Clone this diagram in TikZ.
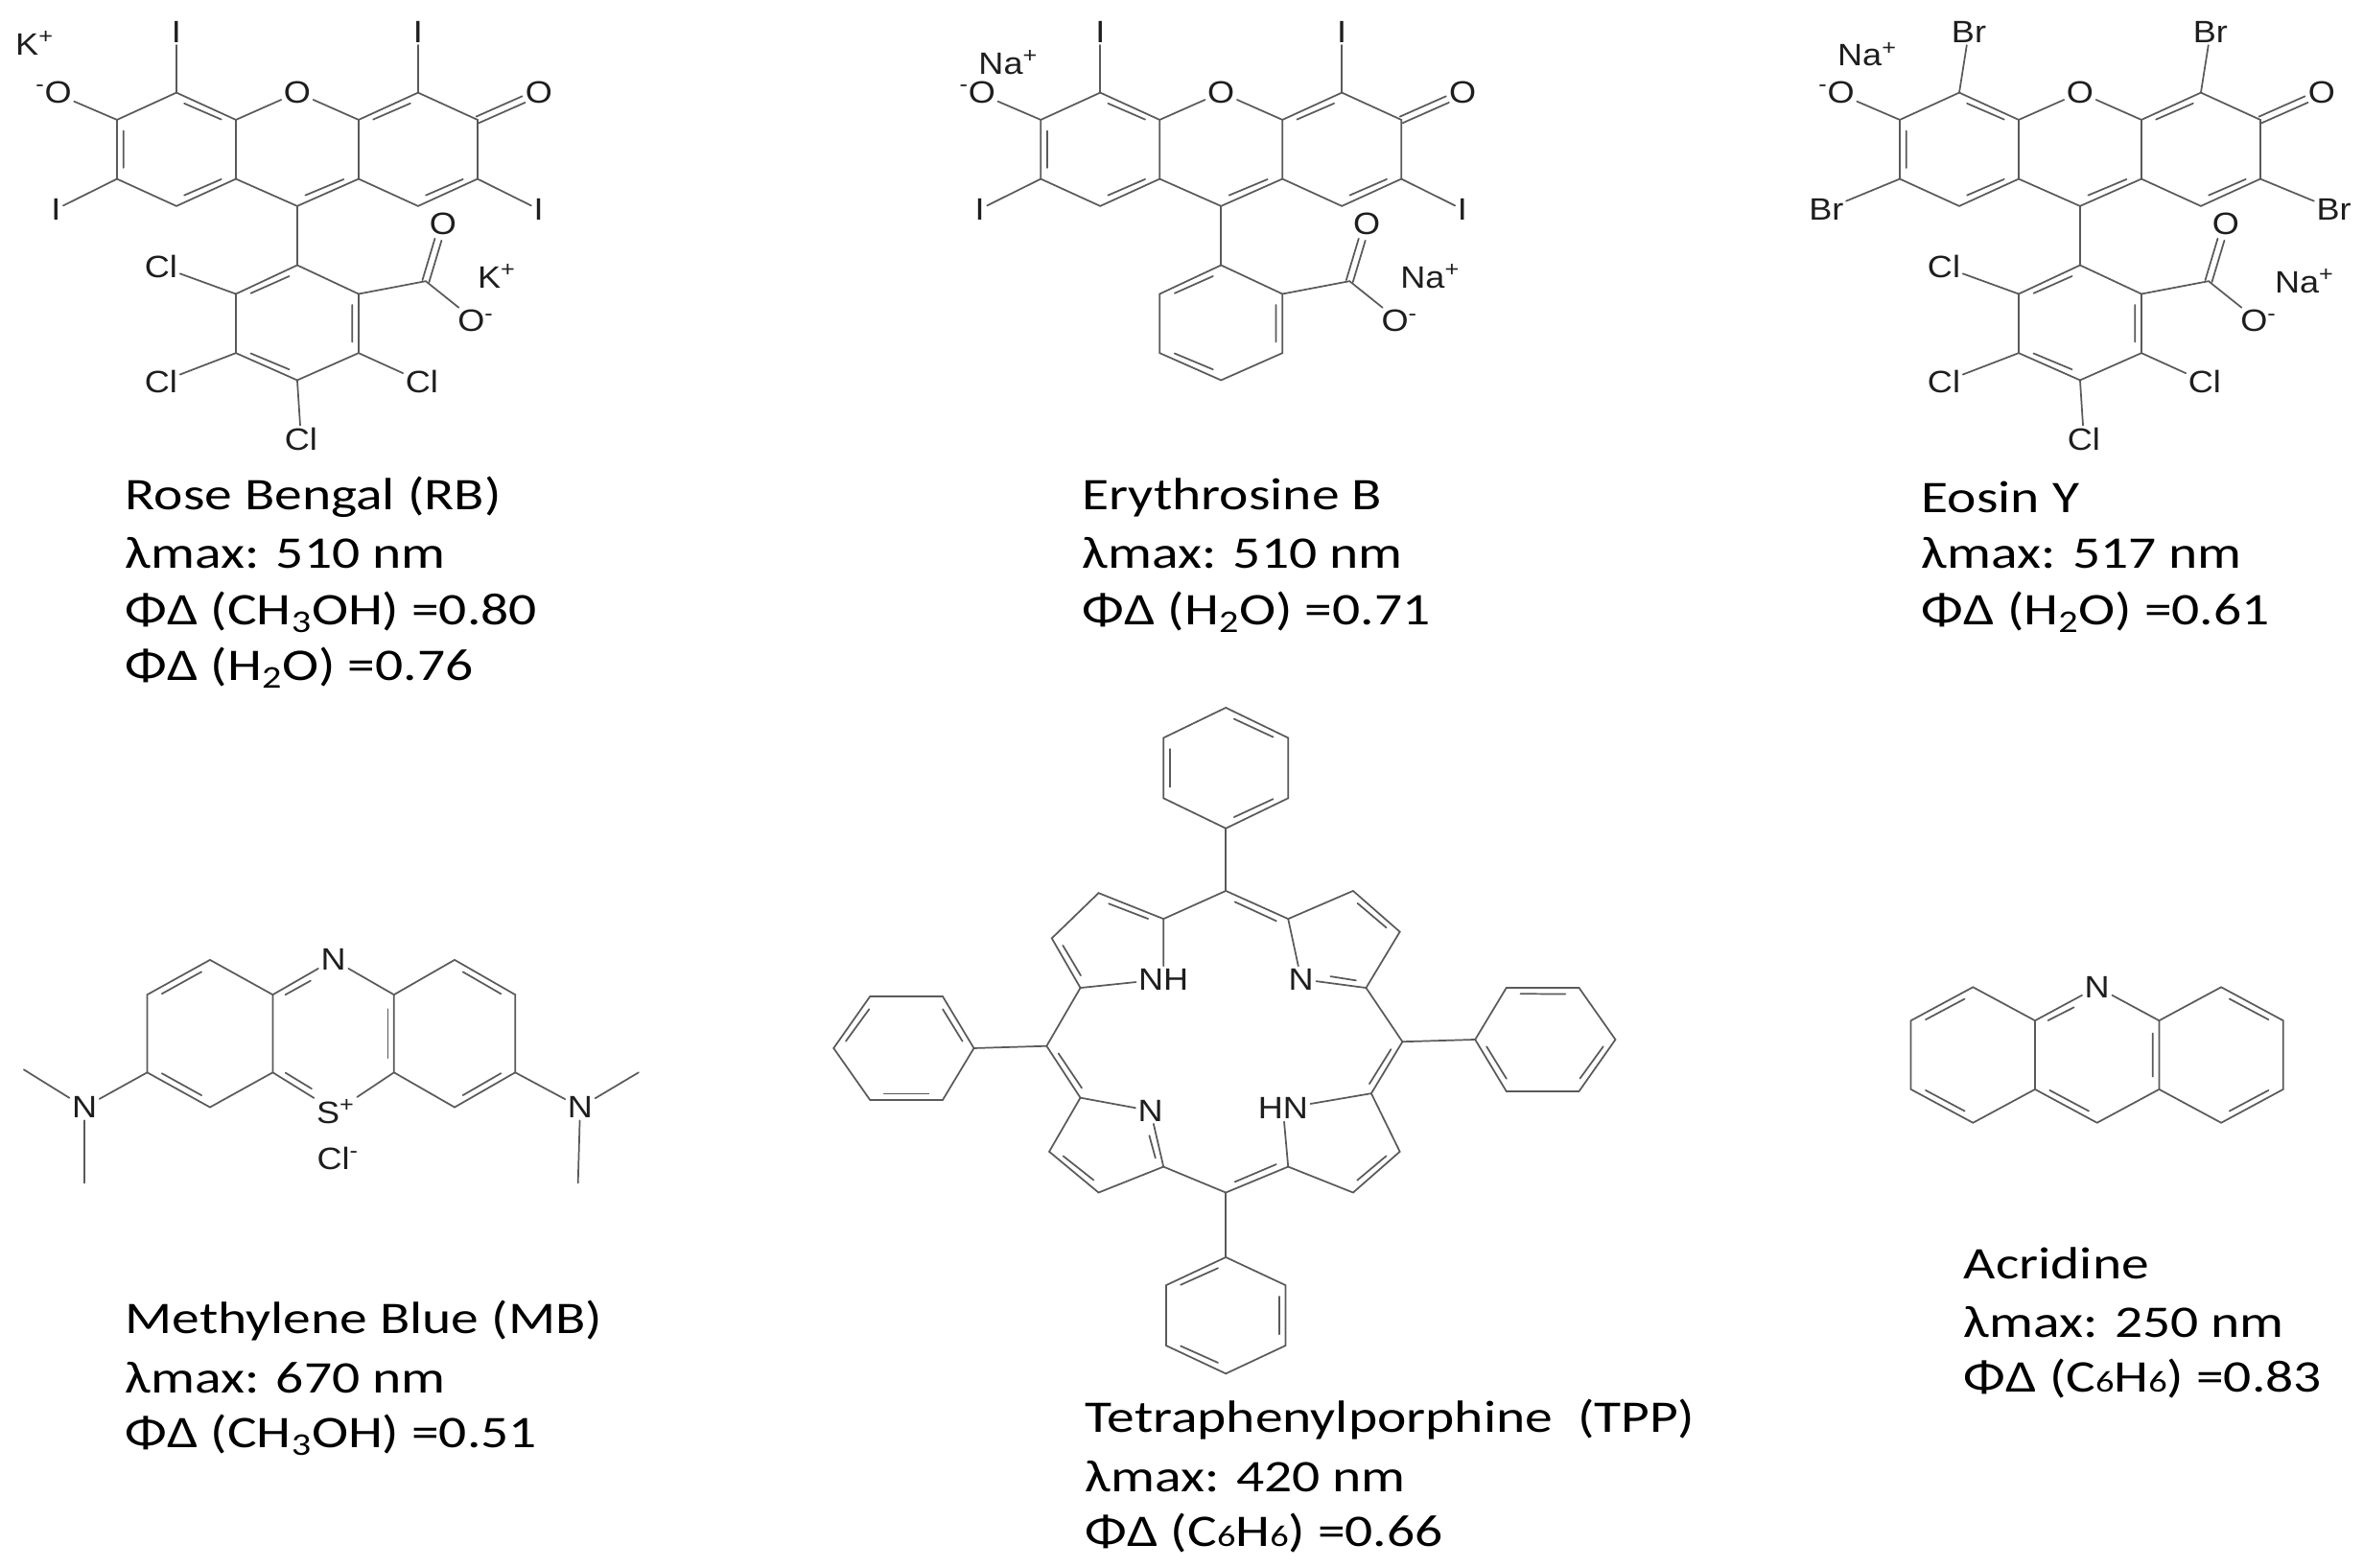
\documentclass[tikz,border=0pt]{standalone}
\usepackage{fontspec}
\setmainfont{Carlito}[FakeStretch=1.22]
\newfontfamily\arialf{Liberation Sans}[FakeStretch=1.12]
\usetikzlibrary{calc}
\definecolor{bondc}{HTML}{5A5A5A}
\definecolor{atomc}{HTML}{1E1E1E}
\newcommand\atomfont{\arialf\fontsize{20.5}{20.5}\selectfont}
\newcommand\lblfont{\fontsize{30}{34}\selectfont}
\newcommand\smd[1]{{\fontsize{20}{20}\selectfont #1}}
\tikzset{
  bond/.style={draw=bondc, line width=1.1pt, line cap=round},
  atom/.style={font=\atomfont, text=atomc, inner sep=1.5pt},
  lbl/.style={font=\lblfont, anchor=west, text=black, inner sep=0pt}
}
\newcommand\dbin[3]{\draw[bond] ($(#1)!0.15!(#2)!4.5pt!(#3)$) -- ($(#2)!0.15!(#1)!4.5pt!(#3)$);}
\newcommand\dbl[3]{\draw[bond] ($(#1)!0.12!(#2)!4.5pt!(#3)$) -- ($(#2)!0.42!(#1)!4.5pt!(#3)$);}
\newcommand\dbx[2]{\draw[bond,shorten >=11pt] ($(#1)!2.3pt!90:(#2)$) -- ($(#2)!2.3pt!-90:(#1)$);
  \draw[bond,shorten >=11pt] ($(#1)!2.3pt!-90:(#2)$) -- ($(#2)!2.3pt!90:(#1)$);}
% xanthene skeleton: #1 prefix, #2 top halogen, #3 side halogen, #4 top x offset
\newcommand\xan[4]{%
  \coordinate (#1a1) at (460,290); \coordinate (#1a2) at (615,375);
  \coordinate (#1a3) at (615,560); \coordinate (#1a4) at (460,645);
  \coordinate (#1a5) at (305,560); \coordinate (#1a6) at (305,375);
  \coordinate (#1ac) at (460,467);
  \coordinate (#1b1) at (1090,290); \coordinate (#1b2) at (1245,375);
  \coordinate (#1b3) at (1245,560); \coordinate (#1b4) at (1090,645);
  \coordinate (#1b5) at (935,560); \coordinate (#1b6) at (935,375);
  \coordinate (#1bc) at (1090,467);
  \coordinate (#1c9) at (775,645); \coordinate (#1cc) at (775,467);
  \coordinate (#1p1) at (775,830); \coordinate (#1p2) at (935,920);
  \coordinate (#1p3) at (935,1105); \coordinate (#1p4) at (775,1190);
  \coordinate (#1p5) at (615,1105); \coordinate (#1p6) at (615,920);
  \coordinate (#1pc) at (775,1010);
  \coordinate (#1cx) at (1110,880);
  \node[atom] (#1Ob) at (775,290) {O};
  \node[atom] (#1Oa) at (140,290) {\textsuperscript{-}O};
  \node[atom] (#1Oe) at (1405,290) {O};
  \node[atom] (#1Oc) at (1155,700) {O};
  \node[atom] (#1Om) at (1240,1005) {O\textsuperscript{-}};
  \node[atom] (#1T1) at ({460+#4},100) {#2};
  \node[atom] (#1T2) at ({1090+#4},100) {#2};
  \node[atom,anchor=east] (#1S1) at (165,655) {#3};
  \node[atom,anchor=west] (#1S2) at (1385,655) {#3};
  \draw[bond] (#1a1)--(#1a2)--(#1a3)--(#1a4)--(#1a5)--(#1a6)--cycle;
  \draw[bond] (#1b1)--(#1b2)--(#1b3)--(#1b4)--(#1b5)--(#1b6)--cycle;
  \draw[bond] (#1p1)--(#1p2)--(#1p3)--(#1p4)--(#1p5)--(#1p6)--cycle;
  \draw[bond] (#1a2)--(#1Ob)--(#1b6);
  \draw[bond] (#1a3)--(#1c9)--(#1b5);
  \draw[bond] (#1c9)--(#1p1);
  \draw[bond] (#1p2)--(#1cx)--(#1Om);
  \draw[bond] (#1a1)--(#1T1); \draw[bond] (#1b1)--(#1T2);
  \draw[bond] (#1a5)--(#1S1); \draw[bond] (#1b3)--(#1S2);
  \draw[bond] (#1a6)--(#1Oa);
  \dbin{#1a1}{#1a2}{#1ac} \dbin{#1a3}{#1a4}{#1ac} \dbin{#1a5}{#1a6}{#1ac}
  \dbin{#1b6}{#1b1}{#1bc} \dbin{#1b3}{#1b4}{#1bc} \dbin{#1c9}{#1b5}{#1cc}
  \dbin{#1p1}{#1p6}{#1pc} \dbin{#1p2}{#1p3}{#1pc} \dbin{#1p4}{#1p5}{#1pc}
  \dbx{#1b2}{#1Oe} \dbx{#1cx}{#1Oc}
}
\newcommand\tetracl[1]{%
  \node[atom] (#1Cl1) at (420,835) {Cl};
  \node[atom] (#1Cl2) at (420,1195) {Cl};
  \node[atom] (#1Cl3) at (1100,1195) {Cl};
  \node[atom] (#1Cl4) at (785,1375) {Cl};
  \draw[bond] (#1p6)--(#1Cl1); \draw[bond] (#1p5)--(#1Cl2);
  \draw[bond] (#1p3)--(#1Cl3); \draw[bond] (#1p4)--(#1Cl4);
}
\begin{document}
\begin{tikzpicture}[x=1pt,y=-1pt]
\fill[white] (0,0) rectangle (1568,1040);
\useasboundingbox (0,0) rectangle (1568,1040);

% ---------- Rose Bengal
\begin{scope}[shift={(0,0)},x=0.2545pt,y=-0.212pt]
  \xan{r}{I}{I}{0}
  \tetracl{r}
  \node[atom] (rK1) at (90,135) {K\textsuperscript{+}};
  \node[atom] (rK2) at (1295,865) {K\textsuperscript{+}};
\end{scope}
% ---------- Erythrosine B
\begin{scope}[shift={(613,0)},x=0.2545pt,y=-0.212pt]
  \xan{e}{I}{I}{0}
  \node[atom] (eNa1) at (220,195) {Na\textsuperscript{+}};
  \node[atom] (eNa2) at (1320,865) {Na\textsuperscript{+}};
\end{scope}
% ---------- Eosin Y
\begin{scope}[shift={(1183,0)},x=0.2545pt,y=-0.212pt]
  \xan{y}{Br}{Br}{25}
  \tetracl{y}
  \node[atom] (yNa1) at (220,170) {Na\textsuperscript{+}};
  \node[atom] (yNa2) at (1360,880) {Na\textsuperscript{+}};
\end{scope}

% ---------- Methylene blue
\begin{scope}[shift={(0,512)},x=0.2873pt,y=-0.2716pt]
  \coordinate (L1) at (485,460); \coordinate (L2) at (630,545);
  \coordinate (L3) at (630,735); \coordinate (L4) at (485,820);
  \coordinate (L5) at (340,735); \coordinate (L6) at (340,545);
  \coordinate (Lc) at (485,640);
  \coordinate (R1) at (1050,460); \coordinate (R2) at (1190,545);
  \coordinate (R3) at (1190,735); \coordinate (R4) at (1050,820);
  \coordinate (R5) at (910,735); \coordinate (R6) at (910,545);
  \coordinate (Rc) at (1050,640);
  \coordinate (Mc) at (770,640);
  \node[atom] (mN) at (770,460) {N};
  \node[atom] (mS) at (775,830) {S\textsuperscript{+}};
  \node[atom] (mCl) at (780,945) {Cl\textsuperscript{-}};
  \node[atom] (mNl) at (195,820) {N};
  \node[atom] (mNr) at (1340,820) {N};
  \coordinate (me1) at (55,728); \coordinate (me2) at (195,1005);
  \coordinate (me3) at (1475,735); \coordinate (me4) at (1335,1005);
  \draw[bond] (L1)--(L2)--(L3)--(L4)--(L5)--(L6)--cycle;
  \draw[bond] (R1)--(R2)--(R3)--(R4)--(R5)--(R6)--cycle;
  \draw[bond] (L2)--(mN)--(R6);
  \draw[bond] (L3)--(mS)--(R5);
  \draw[bond] (L5)--(mNl); \draw[bond] (me1)--(mNl)--(me2);
  \draw[bond] (R3)--(mNr); \draw[bond] (me3)--(mNr)--(me4);
  \dbin{L1}{L6}{Lc} \dbin{L4}{L5}{Lc}
  \dbin{R1}{R2}{Rc} \dbin{R3}{R4}{Rc}
  \dbin{R6}{R5}{Mc}
  \dbl{L2}{mN}{Mc} \dbl{L3}{mS}{Mc}
\end{scope}

% ---------- Acridine
\begin{scope}[shift={(1229,602)},x=0.2167pt,y=-0.2466pt]
  \coordinate (A1) at (370,215); \coordinate (A2) at (560,305);
  \coordinate (A3) at (560,490); \coordinate (A4) at (370,580);
  \coordinate (A5) at (180,490); \coordinate (A6) at (180,305);
  \coordinate (Ac) at (370,397);
  \coordinate (B1) at (1130,215); \coordinate (B2) at (1320,305);
  \coordinate (B3) at (1320,490); \coordinate (B4) at (1130,580);
  \coordinate (B5) at (940,490); \coordinate (B6) at (940,305);
  \coordinate (Bc) at (1130,397);
  \coordinate (C9) at (750,580); \coordinate (Cc) at (750,397);
  \node[atom] (aN) at (750,215) {N};
  \draw[bond] (A1)--(A2)--(A3)--(A4)--(A5)--(A6)--cycle;
  \draw[bond] (B1)--(B2)--(B3)--(B4)--(B5)--(B6)--cycle;
  \draw[bond] (A2)--(aN)--(B6);
  \draw[bond] (A3)--(C9)--(B5);
  \dbin{A1}{A6}{Ac} \dbin{A4}{A5}{Ac}
  \dbin{B1}{B2}{Bc} \dbin{B3}{B4}{Bc}
  \dbin{B6}{B5}{Cc} \dbin{C9}{A3}{Cc}
  \dbl{A2}{aN}{Cc}
\end{scope}

% ---------- TPP
\begin{scope}[shift={(534.2,451)},x=0.3447pt,y=-0.286pt]
  \coordinate (T1) at (810,65); \coordinate (T2) at (930,135);
  \coordinate (T3) at (930,275); \coordinate (T4) at (810,345);
  \coordinate (T5) at (690,275); \coordinate (T6) at (690,135);
  \coordinate (Tc) at (810,205);
  \coordinate (Lp1) at (55,855); \coordinate (Lp2) at (125,735);
  \coordinate (Lp3) at (265,735); \coordinate (Lp4) at (325,855);
  \coordinate (Lp5) at (265,975); \coordinate (Lp6) at (125,975);
  \coordinate (Lpc) at (195,855);
  \coordinate (Rp1) at (1290,835); \coordinate (Rp2) at (1350,715);
  \coordinate (Rp3) at (1490,715); \coordinate (Rp4) at (1560,835);
  \coordinate (Rp5) at (1490,955); \coordinate (Rp6) at (1350,955);
  \coordinate (Rpc) at (1425,835);
  \coordinate (Bp1) at (810,1340); \coordinate (Bp2) at (925,1405);
  \coordinate (Bp3) at (925,1545); \coordinate (Bp4) at (810,1610);
  \coordinate (Bp5) at (695,1545); \coordinate (Bp6) at (695,1405);
  \coordinate (Bpc) at (810,1475);
  \coordinate (mt) at (810,490); \coordinate (ml) at (465,850);
  \coordinate (mr) at (1150,840); \coordinate (mb) at (810,1190);
  \coordinate (mc) at (812,845);
  \coordinate (q1a) at (690,555); \coordinate (q1b) at (565,495);
  \coordinate (q1c) at (475,600); \coordinate (q1d) at (530,715);
  \coordinate (c1) at (590,612);
  \coordinate (q2a) at (930,555); \coordinate (q2b) at (1055,490);
  \coordinate (q2c) at (1145,585); \coordinate (q2d) at (1080,715);
  \coordinate (c2) at (1033,608);
  \coordinate (q3a) at (1090,960); \coordinate (q3b) at (1145,1095);
  \coordinate (q3c) at (1055,1190); \coordinate (q3d) at (930,1130);
  \coordinate (c3) at (1028,1074);
  \coordinate (q4a) at (690,1130); \coordinate (q4b) at (470,1095);
  \coordinate (q4c) at (565,1190); \coordinate (q4d) at (530,970);
  \coordinate (c4) at (584,1077);
  \node[atom] (tN1) at (690,695) {NH};
  \node[atom] (tN2) at (955,695) {N};
  \node[atom] (tN3) at (920,995) {HN};
  \node[atom] (tN4) at (665,1000) {N};
  \draw[bond] (T1)--(T2)--(T3)--(T4)--(T5)--(T6)--cycle;
  \draw[bond] (Lp1)--(Lp2)--(Lp3)--(Lp4)--(Lp5)--(Lp6)--cycle;
  \draw[bond] (Rp1)--(Rp2)--(Rp3)--(Rp4)--(Rp5)--(Rp6)--cycle;
  \draw[bond] (Bp1)--(Bp2)--(Bp3)--(Bp4)--(Bp5)--(Bp6)--cycle;
  \draw[bond] (mt)--(T4); \draw[bond] (ml)--(Lp4);
  \draw[bond] (mr)--(Rp1); \draw[bond] (mb)--(Bp1);
  \draw[bond] (q1a)--(q1b)--(q1c)--(q1d)--(tN1)--(q1a);
  \draw[bond] (q2a)--(q2b)--(q2c)--(q2d)--(tN2)--(q2a);
  \draw[bond] (q3a)--(q3b)--(q3c)--(q3d)--(tN3)--(q3a);
  \draw[bond] (q4a)--(tN4)--(q4d)--(q4b)--(q4c)--(q4a);
  \draw[bond] (q1a)--(mt)--(q2a);
  \draw[bond] (q2d)--(mr)--(q3a);
  \draw[bond] (q3d)--(mb)--(q4a);
  \draw[bond] (q4d)--(ml)--(q1d);
  \dbin{q1a}{q1b}{c1} \dbin{q1c}{q1d}{c1}
  \dbin{q2b}{q2c}{c2} \dbl{q2d}{tN2}{c2}
  \dbin{q3b}{q3c}{c3}
  \dbl{q4a}{tN4}{c4} \dbin{q4b}{q4c}{c4}
  \dbin{mt}{q2a}{mc} \dbin{mr}{q3a}{mc} \dbin{mb}{q3d}{mc} \dbin{ml}{q4d}{mc}
  \dbin{T1}{T2}{Tc} \dbin{T5}{T6}{Tc} \dbin{T3}{T4}{Tc}
  \dbin{Lp1}{Lp2}{Lpc} \dbin{Lp3}{Lp4}{Lpc} \dbin{Lp5}{Lp6}{Lpc}
  \dbin{Rp2}{Rp3}{Rpc} \dbin{Rp4}{Rp5}{Rpc} \dbin{Rp6}{Rp1}{Rpc}
  \dbin{Bp1}{Bp6}{Bpc} \dbin{Bp2}{Bp3}{Bpc} \dbin{Bp4}{Bp5}{Bpc}
\end{scope}

% ---------- captions
\node[lbl] (rb1) at (83,330) {Rose Bengal (RB)};
\node[lbl] (rb2) at (83,367) {λmax: 510 nm};
\node[lbl] (rb3) at (83,406) {ΦΔ (CH\textsubscript{3}OH) =0.80};
\node[lbl] (rb4) at (83,443) {ΦΔ (H\textsubscript{2}O) =0.76};
\node[lbl] (eb1) at (718,330) {Erythrosine B};
\node[lbl] (eb2) at (718,367) {λmax: 510 nm};
\node[lbl] (eb3) at (718,406) {ΦΔ (H\textsubscript{2}O) =0.71};
\node[lbl] (ey1) at (1275,330) {Eosin Y};
\node[lbl] (ey2) at (1275,367) {λmax: 517 nm};
\node[lbl] (ey3) at (1275,406) {ΦΔ (H\textsubscript{2}O) =0.61};
\node[lbl] (mb1) at (83,876) {Methylene Blue (MB)};
\node[lbl] (mb2) at (83,914) {λmax: 670 nm};
\node[lbl] (mb3) at (83,952) {ΦΔ (CH\textsubscript{3}OH) =0.51};
\node[lbl] (tp1) at (720,942) {Tetraphenylporphine\ \ (TPP)};
\node[lbl] (tp2) at (720,980) {λmax: 420 nm};
\node[lbl] (tp3) at (720,1017) {ΦΔ (C\smd{6}H\smd{6}) =0.66};
\node[lbl] (ac1) at (1303,838) {Acridine};
\node[lbl] (ac2) at (1303,877) {λmax: 250 nm};
\node[lbl] (ac3) at (1303,915) {ΦΔ (C\smd{6}H\smd{6}) =0.83};
\end{tikzpicture}
\end{document}
